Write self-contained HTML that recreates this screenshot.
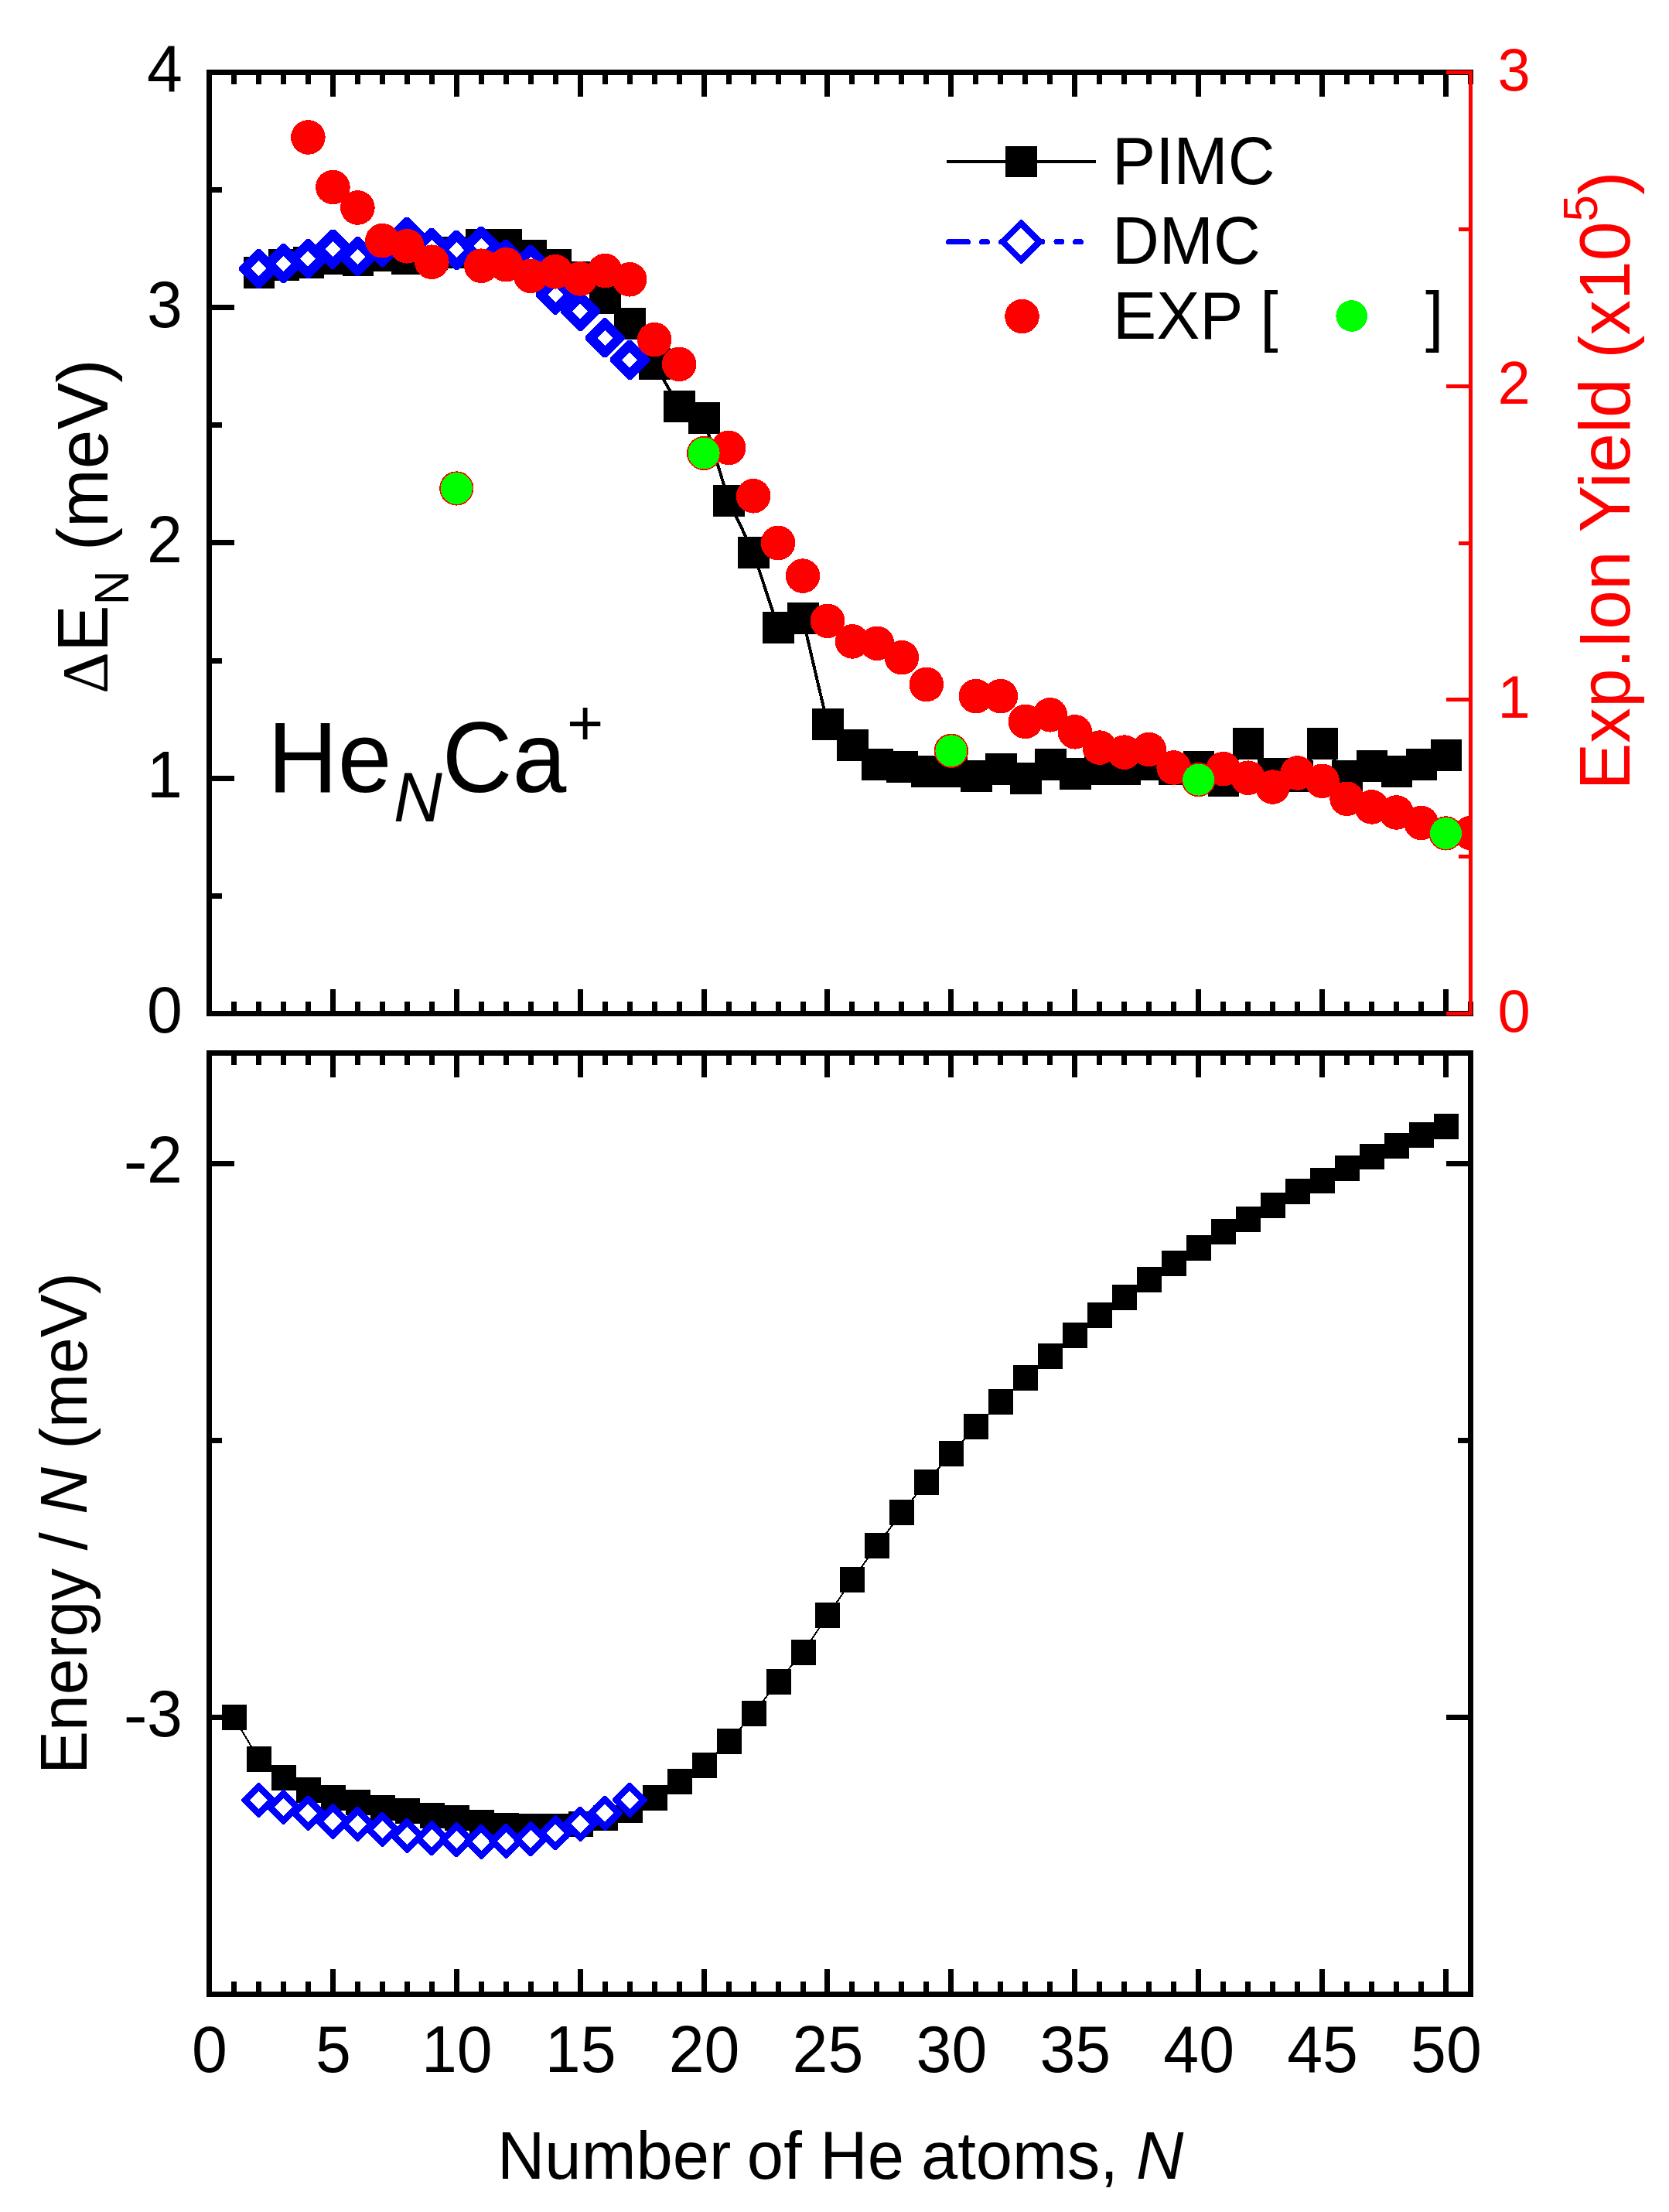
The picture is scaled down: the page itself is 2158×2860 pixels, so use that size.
<!DOCTYPE html>
<html lang="en"><head><meta charset="utf-8"><title>HeNCa+ energies</title>
<style>html,body{margin:0;padding:0;background:#fff}svg{display:block}text{font-family:"Liberation Sans",sans-serif;fill:#000}.r{fill:#f00}.i{font-style:italic}</style></head><body>
<svg width="2158" height="2860" viewBox="0 0 2158 2860" shape-rendering="crispEdges">
<rect width="2158" height="2860" fill="#fff"/>
<defs>
<g id="dt"><path fill="#00f" d="M25.5 -2.1L25.5 2.1L2.1 25.5L-2.1 25.5L-25.5 2.1L-25.5 -2.1L-2.1 -25.5L2.1 -25.5Z"/><path fill="#fff" d="M10 0L0 10L-10 0L0 -10Z"/></g>
<g id="db"><path fill="#00f" d="M22.6 -1.2L22.6 1.2L1.2 22.6L-1.2 22.6L-22.6 1.2L-22.6 -1.2L-1.2 -22.6L1.2 -22.6Z"/><path fill="#fff" d="M11.6 0L0 11.6L-11.6 0L0 -11.6Z"/></g>
<g id="dl"><path fill="#00f" d="M28.2 -1.3L28.2 1.3L1.3 28.2L-1.3 28.2L-28.2 1.3L-28.2 -1.3L-1.3 -28.2L1.3 -28.2Z"/><path fill="#fff" d="M18 0L0 18L-18 0L0 -18Z"/></g>
</defs>
<g shape-rendering="crispEdges" fill="#000">
<rect x="267" y="90" width="1638" height="7"/>
<rect x="267" y="1307" width="1638" height="7"/>
<rect x="267" y="90" width="7" height="1224"/>
<rect x="299" y="93.5" width="7" height="15.5"/>
<rect x="299" y="1295" width="7" height="15.5"/>
<rect x="331" y="93.5" width="7" height="15.5"/>
<rect x="331" y="1295" width="7" height="15.5"/>
<rect x="363" y="93.5" width="7" height="15.5"/>
<rect x="363" y="1295" width="7" height="15.5"/>
<rect x="395" y="93.5" width="7" height="15.5"/>
<rect x="395" y="1295" width="7" height="15.5"/>
<rect x="427" y="93.5" width="7" height="31.5"/>
<rect x="427" y="1279" width="7" height="31.5"/>
<rect x="459" y="93.5" width="7" height="15.5"/>
<rect x="459" y="1295" width="7" height="15.5"/>
<rect x="491" y="93.5" width="7" height="15.5"/>
<rect x="491" y="1295" width="7" height="15.5"/>
<rect x="523" y="93.5" width="7" height="15.5"/>
<rect x="523" y="1295" width="7" height="15.5"/>
<rect x="555" y="93.5" width="7" height="15.5"/>
<rect x="555" y="1295" width="7" height="15.5"/>
<rect x="587" y="93.5" width="7" height="31.5"/>
<rect x="587" y="1279" width="7" height="31.5"/>
<rect x="619" y="93.5" width="7" height="15.5"/>
<rect x="619" y="1295" width="7" height="15.5"/>
<rect x="651" y="93.5" width="7" height="15.5"/>
<rect x="651" y="1295" width="7" height="15.5"/>
<rect x="683" y="93.5" width="7" height="15.5"/>
<rect x="683" y="1295" width="7" height="15.5"/>
<rect x="715" y="93.5" width="7" height="15.5"/>
<rect x="715" y="1295" width="7" height="15.5"/>
<rect x="747" y="93.5" width="7" height="31.5"/>
<rect x="747" y="1279" width="7" height="31.5"/>
<rect x="779" y="93.5" width="7" height="15.5"/>
<rect x="779" y="1295" width="7" height="15.5"/>
<rect x="811" y="93.5" width="7" height="15.5"/>
<rect x="811" y="1295" width="7" height="15.5"/>
<rect x="843" y="93.5" width="7" height="15.5"/>
<rect x="843" y="1295" width="7" height="15.5"/>
<rect x="875" y="93.5" width="7" height="15.5"/>
<rect x="875" y="1295" width="7" height="15.5"/>
<rect x="907" y="93.5" width="7" height="31.5"/>
<rect x="907" y="1279" width="7" height="31.5"/>
<rect x="939" y="93.5" width="7" height="15.5"/>
<rect x="939" y="1295" width="7" height="15.5"/>
<rect x="971" y="93.5" width="7" height="15.5"/>
<rect x="971" y="1295" width="7" height="15.5"/>
<rect x="1003" y="93.5" width="7" height="15.5"/>
<rect x="1003" y="1295" width="7" height="15.5"/>
<rect x="1035" y="93.5" width="7" height="15.5"/>
<rect x="1035" y="1295" width="7" height="15.5"/>
<rect x="1066" y="93.5" width="7" height="31.5"/>
<rect x="1066" y="1279" width="7" height="31.5"/>
<rect x="1098" y="93.5" width="7" height="15.5"/>
<rect x="1098" y="1295" width="7" height="15.5"/>
<rect x="1130" y="93.5" width="7" height="15.5"/>
<rect x="1130" y="1295" width="7" height="15.5"/>
<rect x="1162" y="93.5" width="7" height="15.5"/>
<rect x="1162" y="1295" width="7" height="15.5"/>
<rect x="1194" y="93.5" width="7" height="15.5"/>
<rect x="1194" y="1295" width="7" height="15.5"/>
<rect x="1226" y="93.5" width="7" height="31.5"/>
<rect x="1226" y="1279" width="7" height="31.5"/>
<rect x="1258" y="93.5" width="7" height="15.5"/>
<rect x="1258" y="1295" width="7" height="15.5"/>
<rect x="1290" y="93.5" width="7" height="15.5"/>
<rect x="1290" y="1295" width="7" height="15.5"/>
<rect x="1322" y="93.5" width="7" height="15.5"/>
<rect x="1322" y="1295" width="7" height="15.5"/>
<rect x="1354" y="93.5" width="7" height="15.5"/>
<rect x="1354" y="1295" width="7" height="15.5"/>
<rect x="1386" y="93.5" width="7" height="31.5"/>
<rect x="1386" y="1279" width="7" height="31.5"/>
<rect x="1418" y="93.5" width="7" height="15.5"/>
<rect x="1418" y="1295" width="7" height="15.5"/>
<rect x="1450" y="93.5" width="7" height="15.5"/>
<rect x="1450" y="1295" width="7" height="15.5"/>
<rect x="1482" y="93.5" width="7" height="15.5"/>
<rect x="1482" y="1295" width="7" height="15.5"/>
<rect x="1514" y="93.5" width="7" height="15.5"/>
<rect x="1514" y="1295" width="7" height="15.5"/>
<rect x="1546" y="93.5" width="7" height="31.5"/>
<rect x="1546" y="1279" width="7" height="31.5"/>
<rect x="1578" y="93.5" width="7" height="15.5"/>
<rect x="1578" y="1295" width="7" height="15.5"/>
<rect x="1610" y="93.5" width="7" height="15.5"/>
<rect x="1610" y="1295" width="7" height="15.5"/>
<rect x="1642" y="93.5" width="7" height="15.5"/>
<rect x="1642" y="1295" width="7" height="15.5"/>
<rect x="1674" y="93.5" width="7" height="15.5"/>
<rect x="1674" y="1295" width="7" height="15.5"/>
<rect x="1706" y="93.5" width="7" height="31.5"/>
<rect x="1706" y="1279" width="7" height="31.5"/>
<rect x="1738" y="93.5" width="7" height="15.5"/>
<rect x="1738" y="1295" width="7" height="15.5"/>
<rect x="1770" y="93.5" width="7" height="15.5"/>
<rect x="1770" y="1295" width="7" height="15.5"/>
<rect x="1802" y="93.5" width="7" height="15.5"/>
<rect x="1802" y="1295" width="7" height="15.5"/>
<rect x="1834" y="93.5" width="7" height="15.5"/>
<rect x="1834" y="1295" width="7" height="15.5"/>
<rect x="1866" y="93.5" width="7" height="31.5"/>
<rect x="1866" y="1279" width="7" height="31.5"/>
<rect x="1898" y="93.5" width="7" height="15.5"/>
<rect x="1898" y="1295" width="7" height="15.5"/>
</g>
<g shape-rendering="crispEdges" fill="#000">
<rect x="270.5" y="1307" width="32" height="7"/>
<rect x="270.5" y="1155" width="16.5" height="7"/>
<rect x="270.5" y="1003" width="32" height="7"/>
<rect x="270.5" y="851" width="16.5" height="7"/>
<rect x="270.5" y="698" width="32" height="7"/>
<rect x="270.5" y="546" width="16.5" height="7"/>
<rect x="270.5" y="394" width="32" height="7"/>
<rect x="270.5" y="242" width="16.5" height="7"/>
<rect x="270.5" y="90" width="32" height="7"/>
</g>
<clipPath id="ct"><rect x="267" y="90" width="1637" height="1224"/></clipPath>
<g clip-path="url(#ct)">
<polyline points="334.5,352.4 366.4,343 398.4,339.7 430.4,334.4 462.4,336.4 494.4,330.4 526.3,334.3 558.3,329 590.3,326.7 622.3,316 654.3,316 686.2,331 718.2,343 750.2,358 782.2,385.3 814.2,418.8 846.1,470.5 878.1,525.4 910.1,541 942.1,647.4 974.1,714.4 1006,811.3 1038,799.5 1070,936.5 1102,963.4 1134,988.3 1165.9,991.2 1197.9,997.6 1229.9,997.6 1261.9,1003.6 1293.9,994.5 1325.8,1006.5 1357.8,988.6 1389.8,1000.3 1421.8,994.2 1453.8,994.2 1485.7,988.2 1517.7,994.2 1549.7,991.3 1581.7,1009.3 1613.7,961.4 1645.6,1000.2 1677.6,1003.3 1709.6,961.2 1741.6,1003.3 1773.6,991 1805.5,997.4 1837.5,988.5 1869.5,976" fill="none" stroke="#000" stroke-width="4"/>
<g fill="#000" shape-rendering="crispEdges">
<rect x="314.6" y="332" width="40.6" height="41"/>
<rect x="346.5" y="322" width="40.6" height="41"/>
<rect x="378.5" y="319" width="40.6" height="41"/>
<rect x="410.5" y="314" width="40.6" height="41"/>
<rect x="442.5" y="316" width="40.6" height="41"/>
<rect x="474.5" y="310" width="40.6" height="41"/>
<rect x="506.4" y="314" width="40.6" height="41"/>
<rect x="538.4" y="308" width="40.6" height="41"/>
<rect x="570.4" y="306" width="40.6" height="41"/>
<rect x="602.4" y="296" width="40.6" height="41"/>
<rect x="634.4" y="296" width="40.6" height="41"/>
<rect x="666.3" y="310" width="40.6" height="41"/>
<rect x="698.3" y="322" width="40.6" height="41"/>
<rect x="730.3" y="338" width="40.6" height="41"/>
<rect x="762.3" y="365" width="40.6" height="41"/>
<rect x="794.3" y="398" width="40.6" height="41"/>
<rect x="826.2" y="450" width="40.6" height="41"/>
<rect x="858.2" y="505" width="40.6" height="41"/>
<rect x="890.2" y="520" width="40.6" height="41"/>
<rect x="922.2" y="627" width="40.6" height="41"/>
<rect x="954.2" y="694" width="40.6" height="41"/>
<rect x="986.1" y="791" width="40.6" height="41"/>
<rect x="1018.1" y="779" width="40.6" height="41"/>
<rect x="1050.1" y="916" width="40.6" height="41"/>
<rect x="1082.1" y="943" width="40.6" height="41"/>
<rect x="1114.1" y="968" width="40.6" height="41"/>
<rect x="1146" y="971" width="40.6" height="41"/>
<rect x="1178" y="977" width="40.6" height="41"/>
<rect x="1210" y="977" width="40.6" height="41"/>
<rect x="1242" y="983" width="40.6" height="41"/>
<rect x="1274" y="974" width="40.6" height="41"/>
<rect x="1305.9" y="986" width="40.6" height="41"/>
<rect x="1337.9" y="968" width="40.6" height="41"/>
<rect x="1369.9" y="980" width="40.6" height="41"/>
<rect x="1401.9" y="974" width="40.6" height="41"/>
<rect x="1433.9" y="974" width="40.6" height="41"/>
<rect x="1465.8" y="968" width="40.6" height="41"/>
<rect x="1497.8" y="974" width="40.6" height="41"/>
<rect x="1529.8" y="971" width="40.6" height="41"/>
<rect x="1561.8" y="989" width="40.6" height="41"/>
<rect x="1593.8" y="941" width="40.6" height="41"/>
<rect x="1625.7" y="980" width="40.6" height="41"/>
<rect x="1657.7" y="983" width="40.6" height="41"/>
<rect x="1689.7" y="941" width="40.6" height="41"/>
<rect x="1721.7" y="983" width="40.6" height="41"/>
<rect x="1753.7" y="970" width="40.6" height="41"/>
<rect x="1785.6" y="977" width="40.6" height="41"/>
<rect x="1817.6" y="968" width="40.6" height="41"/>
<rect x="1849.6" y="956" width="40.6" height="41"/>
</g>
<use href="#dt" x="334.5" y="347.4"/>
<use href="#dt" x="366.4" y="340.7"/>
<use href="#dt" x="398.4" y="334.5"/>
<use href="#dt" x="430.4" y="322"/>
<use href="#dt" x="462.4" y="331.7"/>
<use href="#dt" x="494.4" y="319.6"/>
<use href="#dt" x="526.3" y="306"/>
<use href="#dt" x="558.3" y="320"/>
<use href="#dt" x="590.3" y="323.3"/>
<use href="#dt" x="622.3" y="318.2"/>
<use href="#dt" x="654.3" y="335"/>
<use href="#dt" x="686.2" y="342.2"/>
<use href="#dt" x="718.2" y="381"/>
<use href="#dt" x="750.2" y="402.6"/>
<use href="#dt" x="782.2" y="436.9"/>
<use href="#dt" x="814.2" y="465.4"/>
<g fill="#f00">
<circle cx="398.4" cy="177.5" r="22.3"/>
<circle cx="430.4" cy="242" r="22.3"/>
<circle cx="462.4" cy="268.5" r="22.3"/>
<circle cx="494.4" cy="311.2" r="22.3"/>
<circle cx="526.3" cy="318.3" r="22.3"/>
<circle cx="558.3" cy="338.7" r="22.3"/>
<circle cx="622.3" cy="343.7" r="22.3"/>
<circle cx="654.3" cy="342.2" r="22.3"/>
<circle cx="686.2" cy="356.8" r="22.3"/>
<circle cx="718.2" cy="351.3" r="22.3"/>
<circle cx="750.2" cy="360.4" r="22.3"/>
<circle cx="782.2" cy="350" r="22.3"/>
<circle cx="814.2" cy="361.3" r="22.3"/>
<circle cx="846.1" cy="439.1" r="22.3"/>
<circle cx="878.1" cy="470.9" r="22.3"/>
<circle cx="942.1" cy="579" r="22.3"/>
<circle cx="974.1" cy="641.3" r="22.3"/>
<circle cx="1006" cy="702" r="22.3"/>
<circle cx="1038" cy="744.6" r="22.3"/>
<circle cx="1070" cy="802.8" r="22.3"/>
<circle cx="1102" cy="829.4" r="22.3"/>
<circle cx="1134" cy="831.8" r="22.3"/>
<circle cx="1165.9" cy="850.2" r="22.3"/>
<circle cx="1197.9" cy="885" r="22.3"/>
<circle cx="1261.9" cy="900.1" r="22.3"/>
<circle cx="1293.9" cy="900.1" r="22.3"/>
<circle cx="1325.8" cy="932.9" r="22.3"/>
<circle cx="1357.8" cy="924.3" r="22.3"/>
<circle cx="1389.8" cy="946.3" r="22.3"/>
<circle cx="1421.8" cy="966.6" r="22.3"/>
<circle cx="1453.8" cy="972.6" r="22.3"/>
<circle cx="1485.7" cy="969" r="22.3"/>
<circle cx="1517.7" cy="992.5" r="22.3"/>
<circle cx="1581.7" cy="994.2" r="22.3"/>
<circle cx="1613.7" cy="1005.7" r="22.3"/>
<circle cx="1645.6" cy="1017.6" r="22.3"/>
<circle cx="1677.6" cy="999.5" r="22.3"/>
<circle cx="1709.6" cy="1009.8" r="22.3"/>
<circle cx="1741.6" cy="1032.8" r="22.3"/>
<circle cx="1773.6" cy="1043.4" r="22.3"/>
<circle cx="1805.5" cy="1050.5" r="22.3"/>
<circle cx="1837.5" cy="1063.9" r="22.3"/>
<circle cx="1901.5" cy="1077" r="22.3"/>
</g>
<g fill="#0f0" stroke="#f00" stroke-width="1.6">
<circle cx="590.3" cy="631.5" r="21.3"/>
<circle cx="910.1" cy="586" r="21.3"/>
<circle cx="1229.9" cy="970.8" r="21.3"/>
<circle cx="1549.7" cy="1008.1" r="21.3"/>
<circle cx="1869.5" cy="1077.4" r="21.3"/>
</g>
</g>
<g shape-rendering="crispEdges" fill="#f00">
<rect x="1899" y="91" width="5" height="1222"/>
<rect x="1870" y="1308" width="31.5" height="5"/>
<rect x="1886" y="1105" width="15.5" height="5"/>
<rect x="1870" y="902" width="31.5" height="5"/>
<rect x="1886" y="700" width="15.5" height="5"/>
<rect x="1870" y="497" width="31.5" height="5"/>
<rect x="1886" y="294" width="15.5" height="5"/>
<rect x="1870" y="91" width="31.5" height="5"/>
</g>
<g shape-rendering="crispEdges" fill="#000">
<rect x="267" y="1358" width="1638" height="7"/>
<rect x="267" y="2575" width="1638" height="7"/>
<rect x="267" y="1358" width="7" height="1224"/>
<rect x="299" y="1361.5" width="7" height="15.5"/>
<rect x="299" y="2562" width="7" height="16.5"/>
<rect x="331" y="1361.5" width="7" height="15.5"/>
<rect x="331" y="2562" width="7" height="16.5"/>
<rect x="363" y="1361.5" width="7" height="15.5"/>
<rect x="363" y="2562" width="7" height="16.5"/>
<rect x="395" y="1361.5" width="7" height="15.5"/>
<rect x="395" y="2562" width="7" height="16.5"/>
<rect x="427" y="1361.5" width="7" height="31.5"/>
<rect x="427" y="2546" width="7" height="32.5"/>
<rect x="459" y="1361.5" width="7" height="15.5"/>
<rect x="459" y="2562" width="7" height="16.5"/>
<rect x="491" y="1361.5" width="7" height="15.5"/>
<rect x="491" y="2562" width="7" height="16.5"/>
<rect x="523" y="1361.5" width="7" height="15.5"/>
<rect x="523" y="2562" width="7" height="16.5"/>
<rect x="555" y="1361.5" width="7" height="15.5"/>
<rect x="555" y="2562" width="7" height="16.5"/>
<rect x="587" y="1361.5" width="7" height="31.5"/>
<rect x="587" y="2546" width="7" height="32.5"/>
<rect x="619" y="1361.5" width="7" height="15.5"/>
<rect x="619" y="2562" width="7" height="16.5"/>
<rect x="651" y="1361.5" width="7" height="15.5"/>
<rect x="651" y="2562" width="7" height="16.5"/>
<rect x="683" y="1361.5" width="7" height="15.5"/>
<rect x="683" y="2562" width="7" height="16.5"/>
<rect x="715" y="1361.5" width="7" height="15.5"/>
<rect x="715" y="2562" width="7" height="16.5"/>
<rect x="747" y="1361.5" width="7" height="31.5"/>
<rect x="747" y="2546" width="7" height="32.5"/>
<rect x="779" y="1361.5" width="7" height="15.5"/>
<rect x="779" y="2562" width="7" height="16.5"/>
<rect x="811" y="1361.5" width="7" height="15.5"/>
<rect x="811" y="2562" width="7" height="16.5"/>
<rect x="843" y="1361.5" width="7" height="15.5"/>
<rect x="843" y="2562" width="7" height="16.5"/>
<rect x="875" y="1361.5" width="7" height="15.5"/>
<rect x="875" y="2562" width="7" height="16.5"/>
<rect x="907" y="1361.5" width="7" height="31.5"/>
<rect x="907" y="2546" width="7" height="32.5"/>
<rect x="939" y="1361.5" width="7" height="15.5"/>
<rect x="939" y="2562" width="7" height="16.5"/>
<rect x="971" y="1361.5" width="7" height="15.5"/>
<rect x="971" y="2562" width="7" height="16.5"/>
<rect x="1003" y="1361.5" width="7" height="15.5"/>
<rect x="1003" y="2562" width="7" height="16.5"/>
<rect x="1035" y="1361.5" width="7" height="15.5"/>
<rect x="1035" y="2562" width="7" height="16.5"/>
<rect x="1066" y="1361.5" width="7" height="31.5"/>
<rect x="1066" y="2546" width="7" height="32.5"/>
<rect x="1098" y="1361.5" width="7" height="15.5"/>
<rect x="1098" y="2562" width="7" height="16.5"/>
<rect x="1130" y="1361.5" width="7" height="15.5"/>
<rect x="1130" y="2562" width="7" height="16.5"/>
<rect x="1162" y="1361.5" width="7" height="15.5"/>
<rect x="1162" y="2562" width="7" height="16.5"/>
<rect x="1194" y="1361.5" width="7" height="15.5"/>
<rect x="1194" y="2562" width="7" height="16.5"/>
<rect x="1226" y="1361.5" width="7" height="31.5"/>
<rect x="1226" y="2546" width="7" height="32.5"/>
<rect x="1258" y="1361.5" width="7" height="15.5"/>
<rect x="1258" y="2562" width="7" height="16.5"/>
<rect x="1290" y="1361.5" width="7" height="15.5"/>
<rect x="1290" y="2562" width="7" height="16.5"/>
<rect x="1322" y="1361.5" width="7" height="15.5"/>
<rect x="1322" y="2562" width="7" height="16.5"/>
<rect x="1354" y="1361.5" width="7" height="15.5"/>
<rect x="1354" y="2562" width="7" height="16.5"/>
<rect x="1386" y="1361.5" width="7" height="31.5"/>
<rect x="1386" y="2546" width="7" height="32.5"/>
<rect x="1418" y="1361.5" width="7" height="15.5"/>
<rect x="1418" y="2562" width="7" height="16.5"/>
<rect x="1450" y="1361.5" width="7" height="15.5"/>
<rect x="1450" y="2562" width="7" height="16.5"/>
<rect x="1482" y="1361.5" width="7" height="15.5"/>
<rect x="1482" y="2562" width="7" height="16.5"/>
<rect x="1514" y="1361.5" width="7" height="15.5"/>
<rect x="1514" y="2562" width="7" height="16.5"/>
<rect x="1546" y="1361.5" width="7" height="31.5"/>
<rect x="1546" y="2546" width="7" height="32.5"/>
<rect x="1578" y="1361.5" width="7" height="15.5"/>
<rect x="1578" y="2562" width="7" height="16.5"/>
<rect x="1610" y="1361.5" width="7" height="15.5"/>
<rect x="1610" y="2562" width="7" height="16.5"/>
<rect x="1642" y="1361.5" width="7" height="15.5"/>
<rect x="1642" y="2562" width="7" height="16.5"/>
<rect x="1674" y="1361.5" width="7" height="15.5"/>
<rect x="1674" y="2562" width="7" height="16.5"/>
<rect x="1706" y="1361.5" width="7" height="31.5"/>
<rect x="1706" y="2546" width="7" height="32.5"/>
<rect x="1738" y="1361.5" width="7" height="15.5"/>
<rect x="1738" y="2562" width="7" height="16.5"/>
<rect x="1770" y="1361.5" width="7" height="15.5"/>
<rect x="1770" y="2562" width="7" height="16.5"/>
<rect x="1802" y="1361.5" width="7" height="15.5"/>
<rect x="1802" y="2562" width="7" height="16.5"/>
<rect x="1834" y="1361.5" width="7" height="15.5"/>
<rect x="1834" y="2562" width="7" height="16.5"/>
<rect x="1866" y="1361.5" width="7" height="31.5"/>
<rect x="1866" y="2546" width="7" height="32.5"/>
<rect x="1898" y="1361.5" width="7" height="15.5"/>
<rect x="1898" y="2562" width="7" height="16.5"/>
</g>
<g shape-rendering="crispEdges" fill="#000">
<rect x="1898" y="1358" width="7" height="1224"/>
<rect x="270.5" y="1501" width="32" height="7"/>
<rect x="1869.5" y="1501" width="32" height="7"/>
<rect x="270.5" y="1859" width="16.5" height="7"/>
<rect x="1885" y="1859" width="16.5" height="7"/>
<rect x="270.5" y="2217" width="32" height="7"/>
<rect x="1869.5" y="2217" width="32" height="7"/>
</g>
<polyline points="302.5,2220.4 334.5,2274.3 366.4,2299 398.4,2314.8 430.4,2324.9 462.4,2330.9 494.4,2337.8 526.3,2341.7 558.3,2347.6 590.3,2351 622.3,2357 654.3,2360.8 686.2,2361.8 718.2,2361.8 750.2,2358 782.2,2351 814.2,2340.9 846.1,2324.4 878.1,2303.4 910.1,2282.5 942.1,2251.4 974.1,2215.8 1006,2174 1038,2136.6 1070,2089 1102,2042.4 1134,1998.6 1165.9,1955.8 1197.9,1916.2 1229.9,1879.6 1261.9,1844.7 1293.9,1812.4 1325.8,1781.3 1357.8,1753.1 1389.8,1726 1421.8,1700.7 1453.8,1677.1 1485.7,1654.6 1517.7,1633.1 1549.7,1613.1 1581.7,1592.5 1613.7,1576.1 1645.6,1558 1677.6,1541 1709.6,1526.5 1741.6,1510.4 1773.6,1495.7 1805.5,1481.7 1837.5,1467.9 1869.5,1456.1" fill="none" stroke="#000" stroke-width="2"/>
<g fill="#000" shape-rendering="crispEdges">
<rect x="287" y="2204" width="32" height="33"/>
<rect x="319" y="2258" width="32" height="33"/>
<rect x="351" y="2282" width="32" height="33"/>
<rect x="383" y="2298" width="32" height="33"/>
<rect x="415" y="2308" width="32" height="33"/>
<rect x="447" y="2314" width="32" height="33"/>
<rect x="479" y="2321" width="32" height="33"/>
<rect x="511" y="2325" width="32" height="33"/>
<rect x="543" y="2331" width="32" height="33"/>
<rect x="575" y="2334" width="32" height="33"/>
<rect x="607" y="2340" width="32" height="33"/>
<rect x="639" y="2344" width="32" height="33"/>
<rect x="671" y="2345" width="32" height="33"/>
<rect x="703" y="2345" width="32" height="33"/>
<rect x="735" y="2342" width="32" height="33"/>
<rect x="767" y="2334" width="32" height="33"/>
<rect x="799" y="2324" width="32" height="33"/>
<rect x="831" y="2308" width="32" height="33"/>
<rect x="863" y="2287" width="32" height="33"/>
<rect x="895" y="2266" width="32" height="33"/>
<rect x="927" y="2235" width="32" height="33"/>
<rect x="959" y="2199" width="32" height="33"/>
<rect x="991" y="2158" width="32" height="33"/>
<rect x="1023" y="2120" width="32" height="33"/>
<rect x="1054" y="2072" width="32" height="33"/>
<rect x="1086" y="2026" width="32" height="33"/>
<rect x="1118" y="1982" width="32" height="33"/>
<rect x="1150" y="1939" width="32" height="33"/>
<rect x="1182" y="1900" width="32" height="33"/>
<rect x="1214" y="1863" width="32" height="33"/>
<rect x="1246" y="1828" width="32" height="33"/>
<rect x="1278" y="1796" width="32" height="33"/>
<rect x="1310" y="1765" width="32" height="33"/>
<rect x="1342" y="1737" width="32" height="33"/>
<rect x="1374" y="1710" width="32" height="33"/>
<rect x="1406" y="1684" width="32" height="33"/>
<rect x="1438" y="1661" width="32" height="33"/>
<rect x="1470" y="1638" width="32" height="33"/>
<rect x="1502" y="1617" width="32" height="33"/>
<rect x="1534" y="1597" width="32" height="33"/>
<rect x="1566" y="1576" width="32" height="33"/>
<rect x="1598" y="1560" width="32" height="33"/>
<rect x="1630" y="1542" width="32" height="33"/>
<rect x="1662" y="1524" width="32" height="33"/>
<rect x="1694" y="1510" width="32" height="33"/>
<rect x="1726" y="1494" width="32" height="33"/>
<rect x="1758" y="1479" width="32" height="33"/>
<rect x="1790" y="1465" width="32" height="33"/>
<rect x="1822" y="1451" width="32" height="33"/>
<rect x="1854" y="1440" width="32" height="33"/>
</g>
<use href="#db" x="334.5" y="2327.4"/>
<use href="#db" x="366.4" y="2336.5"/>
<use href="#db" x="398.4" y="2344.2"/>
<use href="#db" x="430.4" y="2355"/>
<use href="#db" x="462.4" y="2358.4"/>
<use href="#db" x="494.4" y="2365.4"/>
<use href="#db" x="526.3" y="2373.5"/>
<use href="#db" x="558.3" y="2376.8"/>
<use href="#db" x="590.3" y="2378.7"/>
<use href="#db" x="622.3" y="2381.3"/>
<use href="#db" x="654.3" y="2380.5"/>
<use href="#db" x="686.2" y="2377.7"/>
<use href="#db" x="718.2" y="2369.9"/>
<use href="#db" x="750.2" y="2358.3"/>
<use href="#db" x="782.2" y="2344.2"/>
<use href="#db" x="814.2" y="2327.4"/>
<g shape-rendering="crispEdges">
<rect x="1224" y="207" width="193" height="4"/>
<rect x="1300" y="189" width="41" height="40"/>
</g>
<g fill="none" stroke="#00f" stroke-width="7" stroke-linecap="round"><path d="M1226.5 312.5H1310" stroke-dasharray="25 18 7 18 7 18"/><path d="M1323 312.5H1405" stroke-dasharray="25 18 7 17.5 7 18"/></g>
<use href="#dl" x="1320.4" y="312.5"/>
<circle cx="1321.5" cy="409" r="22.3" fill="#f00"/>
<circle cx="1747.7" cy="408.5" r="20.3" fill="#0f0"/>
<text transform="translate(1438 237.7) scale(1 1.035)" font-size="84.2">PIMC</text>
<text transform="translate(1438 340.5) scale(1 1.035)" font-size="84.2">DMC</text>
<text transform="translate(1439 437.7) scale(1 1.035)" font-size="84.2">EXP [</text>
<text transform="translate(1843 437.7) scale(1 1.035)" font-size="84.2">]</text>
<text transform="translate(235.8 1335.3) scale(1 1.035)" font-size="82.5" text-anchor="end">0</text>
<text transform="translate(235.8 1031) scale(1 1.035)" font-size="82.5" text-anchor="end">1</text>
<text transform="translate(235.8 726.8) scale(1 1.035)" font-size="82.5" text-anchor="end">2</text>
<text transform="translate(235.8 422.6) scale(1 1.035)" font-size="82.5" text-anchor="end">3</text>
<text transform="translate(235.8 118.3) scale(1 1.035)" font-size="82.5" text-anchor="end">4</text>
<text transform="translate(235.8 1529.1) scale(1 1.035)" font-size="82.5" text-anchor="end">2</text>
<text transform="translate(159.5 1529.8) scale(1.14 1.035)" font-size="82.5">-</text>
<text transform="translate(235.8 2245.3) scale(1 1.035)" font-size="82.5" text-anchor="end">3</text>
<text transform="translate(159.5 2246) scale(1.14 1.035)" font-size="82.5">-</text>
<text transform="translate(271 2679) scale(1 1.035)" font-size="82.5" text-anchor="middle">0</text>
<text transform="translate(430.9 2679) scale(1 1.035)" font-size="82.5" text-anchor="middle">5</text>
<text transform="translate(590.8 2679) scale(1 1.035)" font-size="82.5" text-anchor="middle">10</text>
<text transform="translate(750.7 2679) scale(1 1.035)" font-size="82.5" text-anchor="middle">15</text>
<text transform="translate(910.6 2679) scale(1 1.035)" font-size="82.5" text-anchor="middle">20</text>
<text transform="translate(1070.5 2679) scale(1 1.035)" font-size="82.5" text-anchor="middle">25</text>
<text transform="translate(1230.4 2679) scale(1 1.035)" font-size="82.5" text-anchor="middle">30</text>
<text transform="translate(1390.3 2679) scale(1 1.035)" font-size="82.5" text-anchor="middle">35</text>
<text transform="translate(1550.2 2679) scale(1 1.035)" font-size="82.5" text-anchor="middle">40</text>
<text transform="translate(1710.1 2679) scale(1 1.035)" font-size="82.5" text-anchor="middle">45</text>
<text transform="translate(1870 2679) scale(1 1.035)" font-size="82.5" text-anchor="middle">50</text>
<text transform="translate(1936.5 1333.5) scale(1 1.035)" font-size="76" class="r">0</text>
<text transform="translate(1936.5 927.8) scale(1 1.035)" font-size="76" class="r">1</text>
<text transform="translate(1936.5 522.2) scale(1 1.035)" font-size="76" class="r">2</text>
<text transform="translate(1936.5 116.5) scale(1 1.035)" font-size="76" class="r">3</text>
<text transform="translate(643 2817) scale(1 1.015)" font-size="85">Number <tspan dx="-3">of He </tspan><tspan dx="-1.7">atoms, </tspan><tspan class="i" dx="-0.5">N</tspan></text>
<text transform="translate(111.5 2294) rotate(-90) scale(1 1.015)" font-size="84">Energy / <tspan class="i">N</tspan> (meV)</text>
<text transform="translate(139 897) rotate(-90) scale(1 1.015)" font-size="91"><tspan font-size="84" style="font-family:'Liberation Serif',serif">Δ</tspan>E<tspan font-size="62" dy="26.2">N</tspan><tspan dy="-26.2"> (meV)</tspan></text>
<text transform="translate(2107 1021.5) rotate(-90) scale(1 1.015)" font-size="91.2" class="r">Exp.Ion Yield (x10<tspan font-size="62" dy="-41.3">5</tspan><tspan dy="41.3">)</tspan></text>
<text transform="translate(346 1024) scale(1 1.035)" font-size="125.6">He<tspan class="i" font-size="87" dy="36.7" dx="2.5">N</tspan><tspan dy="-36.7">Ca</tspan><tspan font-size="81" dy="-59.4" dx="0.5">+</tspan></text>
</svg></body></html>
